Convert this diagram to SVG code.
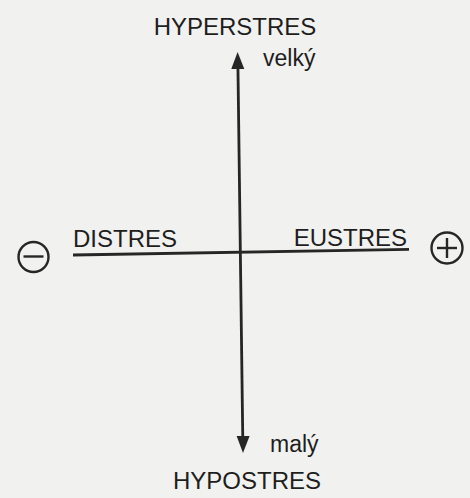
<svg xmlns="http://www.w3.org/2000/svg" width="470" height="498" viewBox="0 0 470 498">
<style>
.cap{font-family:"Liberation Sans",Arial,sans-serif;font-size:24px;fill:#1e1e1e}
.sm{font-family:"Liberation Sans",Arial,sans-serif;font-size:23px;fill:#1e1e1e}
.ax{stroke:#262626;stroke-width:2.8;fill:none}
.ah{fill:#262626}
.sg{stroke:#262626;stroke-width:2.4;fill:none}
</style>
<rect width="470" height="498" fill="#f1f1ef"/>
<g id="connectors">
<line class="ax" x1="237.9" y1="64" x2="242.8" y2="440"/>
<polygon class="ah" points="237.6,52 244.3,69 231.3,69"/>
<polygon class="ah" points="243,453 236.6,436 249.6,436"/>
<line class="ax" x1="73" y1="255" x2="409" y2="249.3"/>
</g>
<g id="hyperstres"><text class="cap" x="235" y="35" text-anchor="middle">HYPERSTRES</text></g>
<g id="velky"><text class="sm" x="263" y="66">velký</text></g>
<g id="distres"><text class="cap" x="73" y="247">DISTRES</text></g>
<g id="eustres"><text class="cap" x="407" y="246" text-anchor="end">EUSTRES</text></g>
<g id="maly"><text class="sm" x="270" y="452">malý</text></g>
<g id="hypostres"><text class="cap" x="247" y="489" text-anchor="middle">HYPOSTRES</text></g>
<g id="minus">
<circle class="sg" cx="33.5" cy="257" r="15"/>
<line class="sg" x1="23.5" y1="256.5" x2="43.5" y2="256.5"/>
</g>
<g id="plus">
<circle class="sg" cx="447" cy="248" r="15.5"/>
<line class="sg" x1="437" y1="248" x2="457" y2="248"/>
<line class="sg" x1="447" y1="238" x2="447" y2="258"/>
</g>
</svg>
